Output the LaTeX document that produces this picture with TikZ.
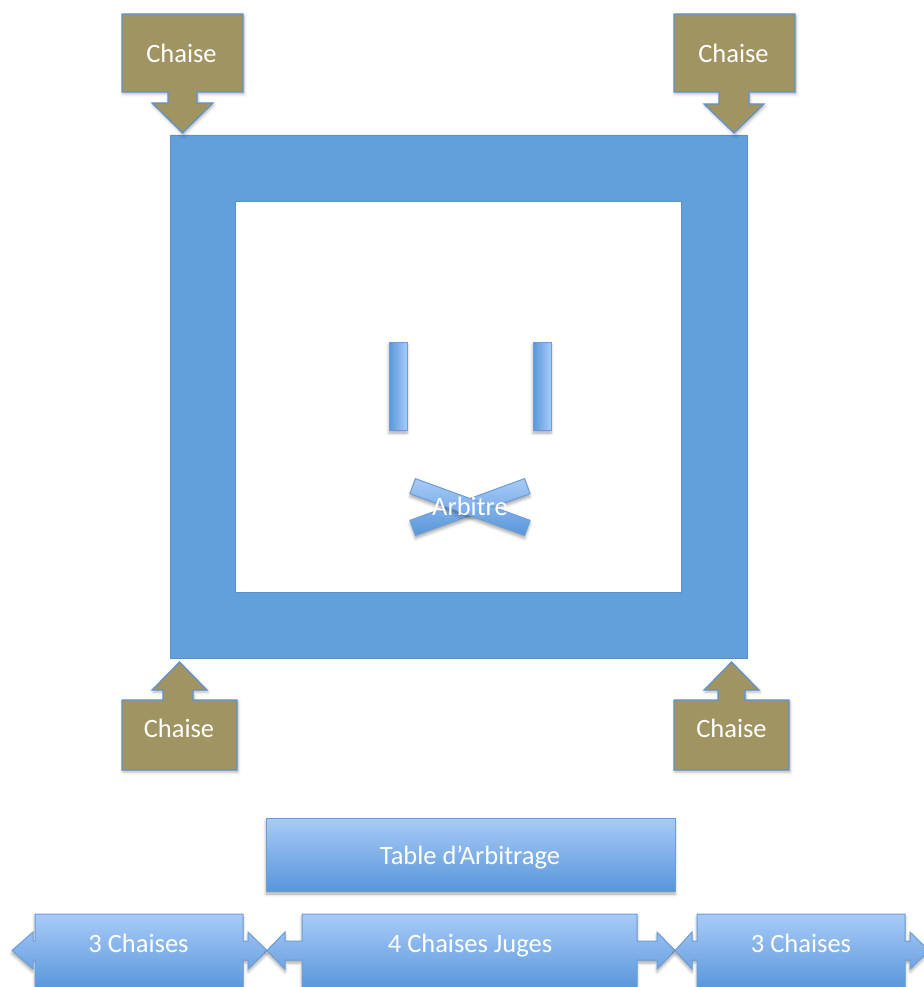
\documentclass[tikz,border=0pt]{standalone}
\usepackage{fontspec}
\setmainfont{Carlito}
\usetikzlibrary{shadows.blur}
\definecolor{ringblue}{HTML}{62A0DB}
\definecolor{ringedge}{HTML}{5B90CC}
\definecolor{chairfill}{HTML}{A09463}
\definecolor{chairedge}{HTML}{5F92D0}
\definecolor{boxtop}{HTML}{A8CBF8}
\definecolor{boxbot}{HTML}{5896DA}
\definecolor{boxedge}{HTML}{6A9DD6}
\tikzset{
  chair/.style={fill=chairfill, draw=chairedge, line width=1.2pt, line join=miter,
    blur shadow={shadow xshift=1pt, shadow yshift=-2pt, shadow blur radius=3pt, shadow opacity=30}},
  gradbox/.style={top color=boxtop, bottom color=boxbot, draw=boxedge, line width=1pt,
    blur shadow={shadow xshift=0pt, shadow yshift=-3pt, shadow blur radius=3pt, shadow opacity=35}},
  postbox/.style={left color=boxbot, right color=boxtop, draw=boxedge, line width=1pt,
    blur shadow={shadow xshift=0pt, shadow yshift=-3pt, shadow blur radius=3pt, shadow opacity=35}},
  lbl/.style={text=white, font=\fontsize{26.5}{30}\selectfont, anchor=base, inner sep=0pt}
}
\begin{document}
\begin{tikzpicture}[x=1pt,y=-1pt]
\useasboundingbox (0,0) rectangle (923,987);

% ring (square frame)
\fill[ringblue, even odd rule]
  (170,135) rectangle (747,658) (235,201) rectangle (681,592);
\draw[ringedge, line width=0.8pt] (170,135) rectangle (747,658) (235,201) rectangle (681,592);

% corner chairs (arrow callouts)
\draw[chair] (122,14) -- (243,14) -- (243,92) -- (197,92) -- (197,103) -- (213,103)
  -- (182.5,133) -- (152,103) -- (168,103) -- (168,92) -- (122,92) -- cycle;
\draw[chair] (674,14) -- (795,14) -- (795,92) -- (749,92) -- (749,104) -- (764,104)
  -- (734,133) -- (704,104) -- (719,104) -- (719,92) -- (674,92) -- cycle;
\draw[chair] (122,770) -- (237,770) -- (237,700) -- (193,700) -- (193,690) -- (207,690)
  -- (179.5,662) -- (152,690) -- (163,690) -- (163,700) -- (122,700) -- cycle;
\draw[chair] (674,770) -- (789,770) -- (789,700) -- (745,700) -- (745,690) -- (759,690)
  -- (731.5,662) -- (704,690) -- (718,690) -- (718,700) -- (674,700) -- cycle;

\node[lbl] (chaiseNW) at (181.5,63) {Chaise};
\node[lbl] (chaiseNE) at (733.5,63) {Chaise};
\node[lbl] (chaiseSW) at (179,737) {Chaise};
\node[lbl] (chaiseSE) at (731.5,737) {Chaise};

% goal posts
\draw[postbox] (389,342) rectangle (407,430);
\draw[postbox] (533,342) rectangle (551,430);

% referee cross
\begin{scope}[shift={(470,507)}, rotate=20]
  \draw[gradbox] (-61,-8) rectangle (61,8);
\end{scope}
\begin{scope}[shift={(470,507)}, rotate=-20]
  \draw[gradbox] (-61,-8) rectangle (61,8);
\end{scope}
\node[lbl] (arbitre) at (470,515) {Arbitre};

% scoring table
\draw[gradbox] (266,818) rectangle (675,891);
\node[lbl] (table) at (470,864) {Table d’Arbitrage};

% chair rows (left-right arrow callouts)
\draw[gradbox] (35,914) -- (243,914) -- (243,941) -- (248,941) -- (248,932) -- (267,950.5)
  -- (248,969) -- (248,960) -- (243,960) -- (243,990) -- (35,990) -- (35,960) -- (33,960)
  -- (33,969) -- (12,950.5) -- (33,932) -- (33,941) -- (35,941) -- cycle;
\draw[gradbox] (302,914) -- (637,914) -- (637,941) -- (657,941) -- (657,932) -- (675,950.5)
  -- (657,969) -- (657,960) -- (637,960) -- (637,990) -- (302,990) -- (302,960) -- (285,960)
  -- (285,969) -- (267,950.5) -- (285,932) -- (285,941) -- (302,941) -- cycle;
\draw[gradbox] (697,914) -- (905,914) -- (905,941) -- (910,941) -- (910,932) -- (929,950.5)
  -- (910,969) -- (910,960) -- (905,960) -- (905,990) -- (697,990) -- (697,960) -- (692,960)
  -- (692,969) -- (675,950.5) -- (692,932) -- (692,941) -- (697,941) -- cycle;

\node[lbl] (rowL) at (138.5,952) {3 Chaises};
\node[lbl] (rowM) at (470,952) {4 Chaises Juges};
\node[lbl] (rowR) at (801,952) {3 Chaises};
\end{tikzpicture}
\end{document}
